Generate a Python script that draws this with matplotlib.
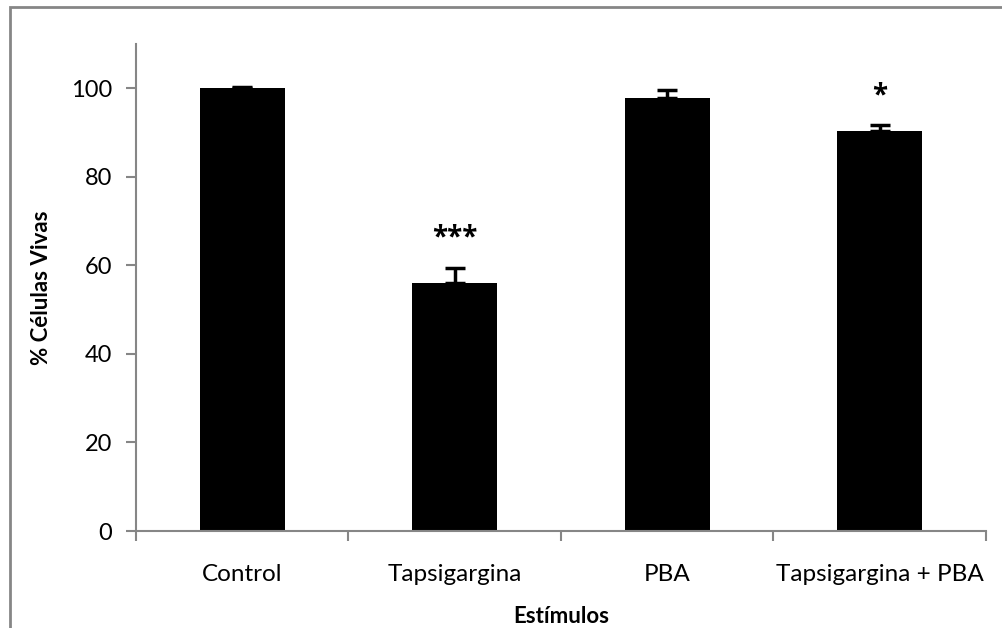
import matplotlib
matplotlib.use("Agg")
import matplotlib.pyplot as plt
from matplotlib.patches import Rectangle
import numpy as np

categories = ["Control", "Tapsigargina", "PBA", "Tapsigargina + PBA"]
values = [100.0, 56.0, 97.7, 90.3]
errors = [0.2, 3.5, 2.0, 1.3]
stars = ["", "***", "", "*"]
yticks = [0, 20, 40, 60, 80, 100]

plt.rcParams['font.family'] = ['Lato', 'DejaVu Sans']

W, H = 1003, 628
fig = plt.figure(figsize=(W/100, H/100), dpi=100)
ax = fig.add_axes([136/W, 1-531/H, (986-136)/W, (531-44)/H])

gray = '#868686'
x = np.arange(len(categories))
ax.bar(x, values, width=0.4, color='black', zorder=2)
ax.errorbar(x, values, yerr=[np.zeros(len(errors)), errors], fmt='none',
            ecolor='black', elinewidth=2.5, capsize=7, capthick=2.5, zorder=3)
for xi, v, e, s in zip(x, values, errors, stars):
    if s:
        ax.text(xi, v + e + 3.5, s, ha='center', va='bottom', fontsize=20,
                fontweight='bold', family=['Open Sans', 'DejaVu Sans'])

ax.set_xlim(-0.5, len(categories) - 0.5)
ax.set_ylim(0, 110)
ax.set_yticks(yticks)
ax.set_yticklabels([str(t) for t in yticks], fontsize=17)
ax.set_xticks(x)
ax.set_xticklabels(categories, fontsize=17.5)
ax.tick_params(axis='x', length=0, pad=24)
ax.set_xticks(np.arange(len(categories) + 1) - 0.5, minor=True)
ax.tick_params(axis='x', which='minor', length=7, width=1.5, color=gray, direction='out')
ax.tick_params(axis='y', length=7, width=1.5, color=gray, direction='out', pad=10)

for side in ['top', 'right']:
    ax.spines[side].set_visible(False)
for side in ['left', 'bottom']:
    ax.spines[side].set_color(gray)
    ax.spines[side].set_linewidth(1.5)

ax.set_ylabel("% Células Vivas", fontsize=16, fontweight='bold', labelpad=14)
ax.set_xlabel("Estímulos", fontsize=16, fontweight='bold', labelpad=15)

fig.patches.append(Rectangle((10/W, 0 - 0.05), (W + 20)/W, 1 - 7/H + 0.05,
                             transform=fig.transFigure, fill=False,
                             edgecolor=gray, linewidth=2))

fig.savefig("out.png", dpi=100)
